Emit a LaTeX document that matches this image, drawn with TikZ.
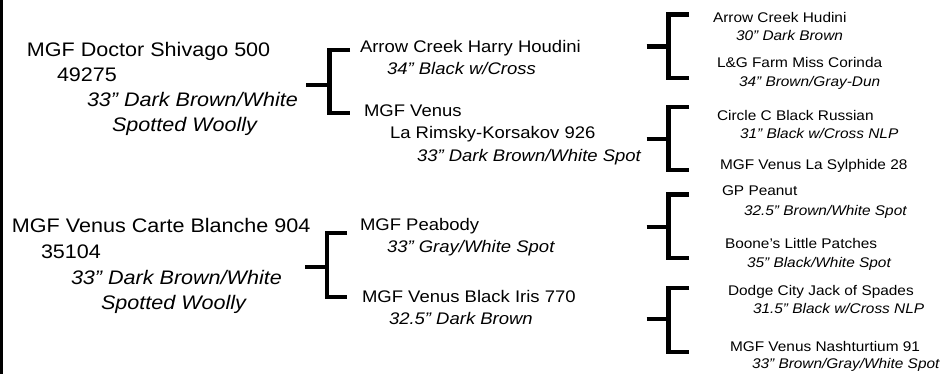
\documentclass[tikz,border=0pt]{standalone}
\usepackage{fontspec}
\setmainfont{Liberation Sans}[FakeStretch=1.1]
\begin{document}
\begin{tikzpicture}[x=1pt,y=-1pt,
  lbl/.style={anchor=base west, inner sep=0pt, outer sep=0pt},
  gA/.style={lbl, font=\fontsize{19.6}{22}\selectfont},
  gAi/.style={lbl, font=\fontsize{19.6}{22}\selectfont\itshape},
  gB/.style={lbl, font=\fontsize{16.8}{19}\selectfont},
  gBi/.style={lbl, font=\fontsize{16.8}{19}\selectfont\itshape},
  gC/.style={lbl, font=\fontsize{14}{16}\selectfont},
  gCi/.style={lbl, font=\fontsize{14}{16}\selectfont\itshape},
  br/.style={line width=4.5pt, line cap=butt, line join=miter, black},
  border/.style={line width=2.5pt, black}]
\useasboundingbox (0,0) rectangle (951,374);
% left border
\coordinate (lt) at (1.25,0);
\coordinate (lb) at (1.25,374);
\draw[border] (lt) -- (lb);

% generation 0
\node[gA]  (p1)  at (27,57)  {MGF Doctor Shivago 500};
\node[gA]  (p1b) at (57,82)  {49275};
\node[gAi] (p1c) at (87,107) {33” Dark Brown/White};
\node[gAi] (p1d) at (112,132) {Spotted Woolly};

\node[gA]  (p2)  at (12,233) {MGF Venus Carte Blanche 904};
\node[gA]  (p2b) at (41,259) {35104};
\node[gAi] (p2c) at (71,284) {33” Dark Brown/White};
\node[gAi] (p2d) at (101,309) {Spotted Woolly};

% generation 1
\node[gB]  (q1)  at (360,53)  {Arrow Creek Harry Houdini};
\node[gBi] (q1b) at (387,75)  {34” Black w/Cross};
\node[gB]  (q2)  at (364,117) {MGF Venus};
\node[gB]  (q2b) at (390,139) {La Rimsky-Korsakov 926};
\node[gBi] (q2c) at (417,162) {33” Dark Brown/White Spot};
\node[gB]  (q3)  at (360,231) {MGF Peabody};
\node[gBi] (q3b) at (387,253) {33” Gray/White Spot};
\node[gB]  (q4)  at (362,302) {MGF Venus Black Iris 770};
\node[gBi] (q4b) at (389,324) {32.5” Dark Brown};

% generation 2
\node[gC]  (r1)  at (713,23)    {Arrow Creek Hudini};
\node[gCi] (r1b) at (736,41)    {30” Dark Brown};
\node[gC]  (r2)  at (717,68)    {L\&G Farm Miss Corinda};
\node[gCi] (r2b) at (739,87)    {34” Brown/Gray-Dun};
\node[gC]  (r3)  at (717,120.5) {Circle C Black Russian};
\node[gCi] (r3b) at (740,139)   {31” Black w/Cross NLP};
\node[gC]  (r4)  at (720,170)   {MGF Venus La Sylphide 28};
\node[gC]  (r5)  at (722,196)   {GP Peanut};
\node[gCi] (r5b) at (744,215.5) {32.5” Brown/White Spot};
\node[gC]  (r6)  at (725,249)   {Boone’s Little Patches};
\node[gCi] (r6b) at (747,267.5) {35” Black/White Spot};
\node[gC]  (r7)  at (728,296)   {Dodge City Jack of Spades};
\node[gCi] (r7b) at (753,313.5) {31.5” Black w/Cross NLP};
\node[gC]  (r8)  at (730,351)   {MGF Venus Nashturtium 91};
\node[gCi] (r8b) at (752,368.5) {33” Brown/Gray/White Spot};

% brackets gen0 -> gen1
\coordinate (s1) at (306,85);   \coordinate (v1) at (329.5,85);
\coordinate (t1) at (350,50);   \coordinate (b1) at (350,113);
\draw[br] (s1) -- (v1);
\draw[br] (t1) -| (v1) |- (b1);

\coordinate (s2) at (305,267);  \coordinate (v2) at (327,267);
\coordinate (t2) at (347,233);  \coordinate (b2) at (347,297);
\draw[br] (s2) -- (v2);
\draw[br] (t2) -| (v2) |- (b2);

% brackets gen1 -> gen2
\coordinate (s3) at (646.5,46.7); \coordinate (v3) at (668.5,46.7);
\coordinate (t3) at (689,14.7);   \coordinate (b3) at (689,78);
\draw[br] (s3) -- (v3);
\draw[br] (t3) -| (v3) |- (b3);

\coordinate (s4) at (646.5,139);  \coordinate (v4) at (668.5,139);
\coordinate (t4) at (689,107);    \coordinate (b4) at (689,170);
\draw[br] (s4) -- (v4);
\draw[br] (t4) -| (v4) |- (b4);

\coordinate (s5) at (646.5,227);  \coordinate (v5) at (668.5,227);
\coordinate (t5) at (689,194.7);  \coordinate (b5) at (689,258);
\draw[br] (s5) -- (v5);
\draw[br] (t5) -| (v5) |- (b5);

\coordinate (s6) at (646.5,319);  \coordinate (v6) at (668.5,319);
\coordinate (t6) at (689,288);    \coordinate (b6) at (689,352);
\draw[br] (s6) -- (v6);
\draw[br] (t6) -| (v6) |- (b6);
\end{tikzpicture}
\end{document}
